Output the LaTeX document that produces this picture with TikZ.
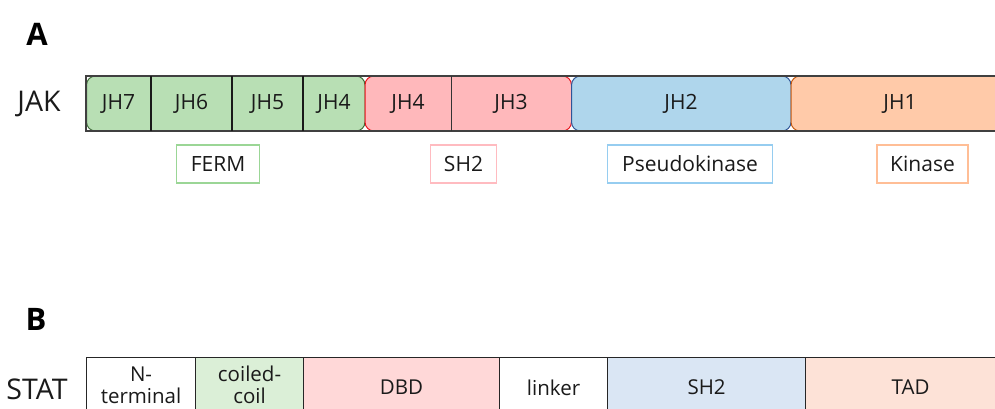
\documentclass[tikz,border=0pt]{standalone}
\usepackage{fontspec}
\setmainfont{Open Sans}
\definecolor{txt}{HTML}{1A1A1A}
\definecolor{gfill}{HTML}{B8DFB4}
\definecolor{gline}{HTML}{3F6B3A}
\definecolor{rfill}{HTML}{FFB8BB}
\definecolor{rline}{HTML}{E8141C}
\definecolor{bfill}{HTML}{AFD6EC}
\definecolor{bline}{HTML}{2F5597}
\definecolor{ofill}{HTML}{FFCAA9}
\definecolor{oline}{HTML}{C55A11}
\definecolor{fermc}{HTML}{9BD696}
\definecolor{shtwoc}{HTML}{FFBBC0}
\definecolor{pseudoc}{HTML}{96CDF0}
\definecolor{kinc}{HTML}{FFBE96}
\definecolor{ccfill}{HTML}{DBEFD7}
\definecolor{dbdfill}{HTML}{FFD8D8}
\definecolor{sfill}{HTML}{DAE6F4}
\definecolor{tadfill}{HTML}{FDE2D7}
\begin{document}
\begin{tikzpicture}[x=1pt,y=-1pt,
  lbl/.style={inner sep=0pt, text=txt, font=\fontsize{21}{25}\selectfont},
  rowname/.style={inner sep=0pt, text=txt, font=\fontsize{28.5}{32}\selectfont},
  panel/.style={inner sep=0pt, text=black, font=\fontsize{31}{34}\selectfont\bfseries},
  tag/.style={draw, line width=1.9pt, fill=white, minimum height=38, inner sep=0pt,
    text=txt, font=\fontsize{21}{25}\selectfont},
  statcell/.style={draw=black!85, line width=1.1pt, anchor=north west, minimum height=60,
    inner sep=0pt, text=txt, align=center, font=\fontsize{20.5}{22.5}\selectfont},
  twoline/.style={minimum height=55},
  group/.style={rounded corners=9pt, line width=1pt},
  divider/.style={draw=black!90, line width=1.4pt}]
\useasboundingbox (0,0) rectangle (995,408);
\clip (0,0) rectangle (995,408);

% panel letters and row names
\node[panel] (pa) at (37,34) {A};
\node[panel] (pb) at (36,319) {B};
\node[rowname] (jak) at (39,104) {JAK};
\node[rowname] (stat) at (37,389) {STAT};

% JAK: rounded domain groups inside a square frame
\filldraw[group, fill=gfill, draw=gline] (86.5,76) rectangle (365,131);
\filldraw[group, fill=rfill, draw=rline] (365,76) rectangle (571.5,131);
\filldraw[group, fill=bfill, draw=bline] (571.5,76) rectangle (791,131);
\filldraw[group, fill=ofill, draw=oline] (791,76) rectangle (1010,131);
\draw[black!75, line width=1.3pt] (86,76) rectangle (1012,131);
\draw[divider] (151,76) -- (151,131);
\draw[divider] (232,76) -- (232,131);
\draw[divider] (303,76) -- (303,131);
\draw[black!80, line width=1pt] (451,76) -- (451,131);

\node[lbl] (jh7) at (118.5,104) {JH7};
\node[lbl] (jh6) at (191.5,104) {JH6};
\node[lbl] (jh5) at (267.5,104) {JH5};
\node[lbl] (jh4a) at (334,104) {JH4};
\node[lbl] (jh4b) at (408,104) {JH4};
\node[lbl] (jh3) at (511,104) {JH3};
\node[lbl] (jh2) at (681,104) {JH2};
\node[lbl] (jh1) at (900,104) {JH1};

% JAK domain names
\node[tag, draw=fermc, minimum width=83] (ferm) at (218,164) {FERM};
\node[tag, draw=shtwoc, minimum width=66] (sh2a) at (463.5,164) {SH2};
\node[tag, draw=pseudoc, minimum width=165] (pseudo) at (690,164) {Pseudokinase};
\node[tag, draw=kinc, minimum width=91] (kin) at (922.5,164) {Kinase};

% STAT domains
\node[statcell, twoline, fill=white, minimum width=109] (nterm) at (86,357) {N-\\terminal};
\node[statcell, twoline, fill=ccfill, minimum width=108] (cc) at (195,357) {coiled-\\coil};
\node[statcell, fill=dbdfill, minimum width=196] (dbd) at (303,357) {DBD};
\node[statcell, fill=white, minimum width=108] (linker) at (499,357) {linker};
\node[statcell, fill=sfill, minimum width=198] (sh2b) at (607,357) {SH2};
\node[statcell, fill=tadfill, minimum width=210] (tad) at (805,357) {TAD};
\end{tikzpicture}
\end{document}
